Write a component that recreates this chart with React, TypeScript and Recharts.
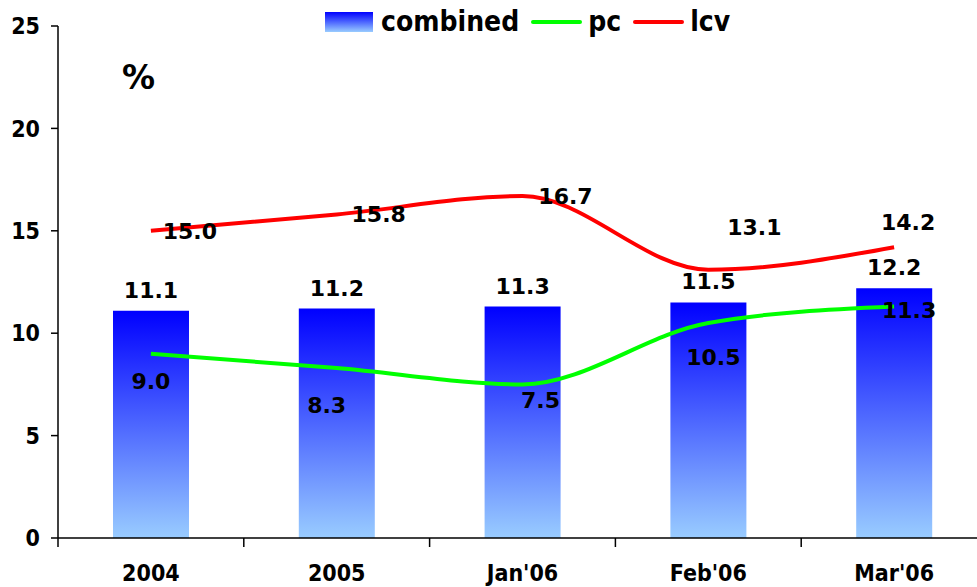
import { ComposedChart, Bar, Line, XAxis, YAxis, Legend, LabelList } from "recharts";

const categories = ["2004", "2005", "Jan'06", "Feb'06", "Mar'06"];
const combined = [11.1, 11.2, 11.3, 11.5, 12.2];
const pc = [9.0, 8.3, 7.5, 10.5, 11.3];
const lcv = [15.0, 15.8, 16.7, 13.1, 14.2];
const yTicks = [0, 5, 10, 15, 20, 25];
const seriesOrder = ["combined", "pc", "lcv"];

const data = categories.map((cat, i) => ({
  cat,
  combined: combined[i],
  pc: pc[i],
  lcv: lcv[i],
}));

// label nudges (dx, dy) relative to each point, as placed in the original
const LCV_LABEL_SHIFT = [
  [39, 1],
  [42, 0],
  [43, 1],
  [46, -42],
  [14, -25],
];
const PC_LABEL_SHIFT = [
  [0, 28],
  [-10, 37],
  [18, 16],
  [5, 35],
  [15, 4],
];

const CHART_W = 990;
const CHART_H = 587;
const MARGIN = { top: 26, right: 3, left: 0, bottom: 0 };
const Y_AXIS_W = 58;
const PLOT_W = CHART_W - MARGIN.left - MARGIN.right - Y_AXIS_W;
const HALF_BAND = PLOT_W / categories.length / 2;

const FONT = "'DejaVu Sans', Verdana, sans-serif";
const FONT_NARROW = "'DejaVu Sans Condensed', 'DejaVu Sans', sans-serif";

function CategoryTick(props: any) {
  const { x, y, payload, index } = props;
  return (
    <g>
      <line x1={x - HALF_BAND} y1={y} x2={x - HALF_BAND} y2={y + 9} stroke="#000" strokeWidth={1.5} />
      {index === categories.length - 1 && (
        <line x1={x + HALF_BAND} y1={y} x2={x + HALF_BAND} y2={y + 9} stroke="#000" strokeWidth={1.5} />
      )}
      <text
        x={x}
        y={y + 43}
        textAnchor="middle"
        fontFamily={FONT_NARROW}
        fontWeight="bold"
        fontSize={23}
        fill="#000"
      >
        {payload.value}
      </text>
    </g>
  );
}

function shiftedLabel(shifts: number[][]) {
  return (props: any) => {
    const { x, y, value, index } = props;
    const [dx, dy] = shifts[index] || [0, 0];
    return (
      <text
        x={x + dx}
        y={y + dy}
        textAnchor="middle"
        dominantBaseline="central"
        fontFamily={FONT}
        fontWeight="bold"
        fontSize={22}
        fill="#000"
      >
        {Number(value).toFixed(1)}
      </text>
    );
  };
}

function LegendContent(props: any) {
  const payload = [...(props.payload || [])].sort(
    (a: any, b: any) => seriesOrder.indexOf(a.value) - seriesOrder.indexOf(b.value)
  );
  return (
    <div
      style={{
        display: "flex",
        alignItems: "center",
        fontFamily: FONT_NARROW,
        fontWeight: "bold",
        fontSize: 28,
        lineHeight: "32px",
        color: "#000",
        whiteSpace: "nowrap",
      }}
    >
      {payload.map((entry: any) => (
        <div key={entry.value} style={{ display: "flex", alignItems: "center", marginRight: 12 }}>
          {entry.type === "rect" ? (
            <svg width={48} height={20} style={{ marginRight: 8 }}>
              <defs>
                <linearGradient id="legendGrad" x1="0" y1="0" x2="0" y2="1">
                  <stop offset="0%" stopColor="#0000ff" />
                  <stop offset="100%" stopColor="#99ccff" />
                </linearGradient>
              </defs>
              <rect x={0} y={0} width={48} height={20} fill="url(#legendGrad)" />
            </svg>
          ) : (
            <svg width={51} height={20} style={{ marginRight: 6 }}>
              <line x1={2} y1={10} x2={49} y2={10} stroke={entry.color} strokeWidth={4} strokeLinecap="round" />
            </svg>
          )}
          <span>{entry.value}</span>
        </div>
      ))}
    </div>
  );
}

export default function App() {
  return (
    <div
      style={{
        position: "fixed",
        left: 0,
        top: 0,
        width: 977,
        height: 587,
        overflow: "hidden",
        background: "#fff",
      }}
    >
      <ComposedChart width={CHART_W} height={CHART_H} data={data} margin={MARGIN}>
        <defs>
          <linearGradient id="barGrad" x1="0" y1="0" x2="0" y2="1">
            <stop offset="0%" stopColor="#0000ff" />
            <stop offset="100%" stopColor="#99ccff" />
          </linearGradient>
        </defs>
        <XAxis
          dataKey="cat"
          height={49}
          tickLine={false}
          tickSize={0}
          tickMargin={0}
          axisLine={{ stroke: "#000", strokeWidth: 1.5 }}
          tick={<CategoryTick />}
          interval={0}
        />
        <YAxis
          width={Y_AXIS_W}
          domain={[0, 25]}
          ticks={yTicks}
          interval={0}
          tickSize={7}
          tickMargin={11}
          axisLine={{ stroke: "#000", strokeWidth: 1.5 }}
          tickLine={{ stroke: "#000", strokeWidth: 1.5 }}
          tick={{ fontFamily: FONT_NARROW, fontWeight: "bold", fontSize: 23, fill: "#000" }}
        />
        <Legend
          layout="vertical"
          align="center"
          verticalAlign="middle"
          content={<LegendContent />}
          wrapperStyle={{ position: "absolute", top: 6, left: 325, width: "auto", height: 32 }}
        />
        <Bar dataKey="combined" name="combined" barSize={76} fill="url(#barGrad)" legendType="rect" isAnimationActive={false}>
          <LabelList
            dataKey="combined"
            position="top"
            offset={13}
            fontFamily={FONT}
            fontWeight="bold"
            fontSize={22}
            fill="#000"
            formatter={(v: any) => Number(v).toFixed(1)}
          />
        </Bar>
        <Line
          dataKey="pc"
          name="pc"
          type="monotone"
          stroke="#00ff00"
          strokeWidth={4}
          dot={false}
          activeDot={false}
          legendType="line"
          isAnimationActive={false}
        >
          <LabelList dataKey="pc" content={shiftedLabel(PC_LABEL_SHIFT)} />
        </Line>
        <Line
          dataKey="lcv"
          name="lcv"
          type="monotone"
          stroke="#ff0000"
          strokeWidth={4}
          dot={false}
          activeDot={false}
          legendType="line"
          isAnimationActive={false}
        >
          <LabelList dataKey="lcv" content={shiftedLabel(LCV_LABEL_SHIFT)} />
        </Line>
      </ComposedChart>
      <div
        style={{
          position: "absolute",
          left: 122,
          top: 58,
          fontFamily: FONT,
          fontWeight: "bold",
          fontSize: 33,
          color: "#000",
        }}
      >
        %
      </div>
    </div>
  );
}
